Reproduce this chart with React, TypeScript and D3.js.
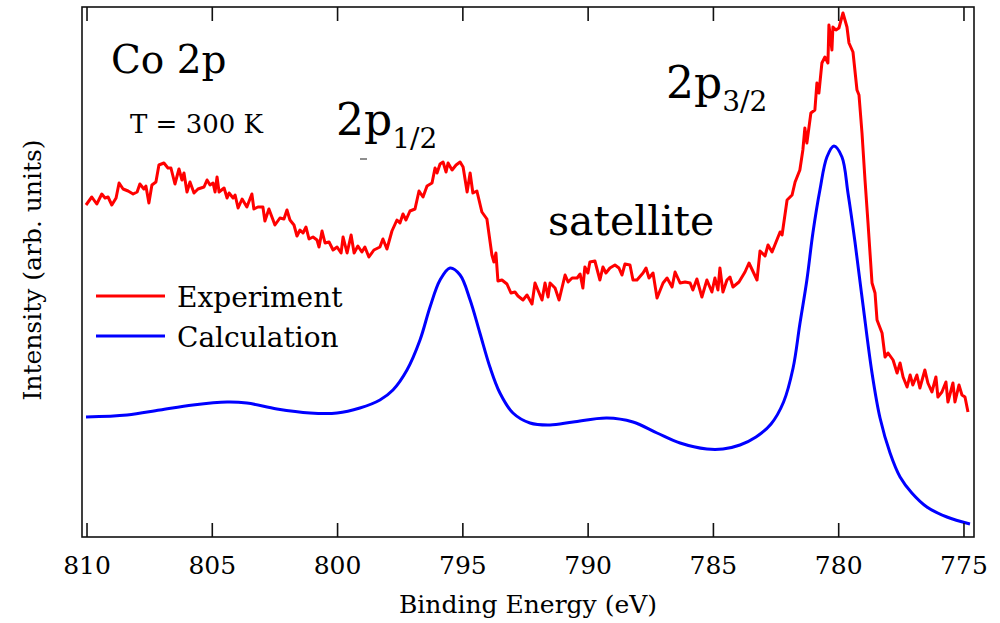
import React from "react";
import * as d3 from "d3";

// Experimental Co 2p XPS spectrum (binding energy in eV, intensity in arb. units)
const expEnergy = [810.04,809.81,809.61,809.41,809.28,809.16,809.01,808.84,808.72,808.56,808.36,808.16,808.0,807.89,807.73,807.65,807.53,807.41,807.25,807.13,806.93,806.77,806.65,806.49,806.33,806.21,806.13,806.01,805.89,805.73,805.57,805.33,805.21,805.09,804.97,804.89,804.81,804.73,804.53,804.41,804.33,804.17,804.09,803.97,803.81,803.62,803.42,803.34,803.18,802.98,802.9,802.74,802.5,802.3,802.14,802.02,801.9,801.74,801.62,801.5,801.38,801.26,801.14,800.98,800.82,800.74,800.62,800.5,800.34,800.18,800.02,799.86,799.78,799.62,799.46,799.34,799.19,799.03,798.91,798.75,798.55,798.31,798.19,798.03,797.83,797.63,797.51,797.39,797.27,797.11,796.91,796.75,796.59,796.43,796.23,796.11,796.03,795.91,795.79,795.67,795.59,795.43,795.27,795.11,794.99,794.83,794.71,794.6,794.44,794.24,794.04,793.84,793.76,793.68,793.6,793.44,793.24,793.08,792.92,792.8,792.6,792.44,792.24,792.12,791.84,791.72,791.6,791.52,791.32,791.16,790.92,790.8,790.64,790.44,790.32,790.21,790.13,790.01,789.93,789.73,789.53,789.41,789.29,789.13,788.93,788.77,788.65,788.53,788.33,788.21,788.05,787.81,787.69,787.57,787.41,787.25,787.01,786.85,786.65,786.53,786.33,786.13,785.93,785.82,785.66,785.46,785.26,785.06,784.94,784.82,784.74,784.62,784.46,784.34,784.22,783.98,783.74,783.58,783.26,783.14,782.94,782.82,782.66,782.5,782.34,782.26,782.06,781.86,781.74,781.55,781.43,781.35,781.27,781.11,780.95,780.87,780.79,780.67,780.55,780.43,780.39,780.27,780.23,780.11,779.99,779.83,779.67,779.59,779.43,779.27,779.19,779.07,778.95,778.83,778.67,778.55,778.47,778.27,778.15,778.03,777.83,777.67,777.55,777.43,777.27,777.15,777.04,776.88,776.76,776.56,776.44,776.28,776.12,776.04,775.88,775.72,775.64,775.44,775.36,775.2,775.08,774.96,774.84];
const expIntensity = [331,339,332,342,338,339,331,338,353,347,345,342,344,352,347,350,333,351,354,371,373,368,368,352,367,356,363,344,354,343,347,349,356,351,353,344,359,344,348,338,343,338,341,328,337,329,342,327,329,329,315,327,311,318,317,326,316,311,300,306,303,309,297,299,296,289,305,293,294,286,289,283,299,283,301,283,290,284,289,279,286,289,297,287,305,316,313,322,316,325,327,345,339,350,353,368,363,372,374,364,373,366,371,374,369,344,363,343,345,324,317,281,274,283,255,256,252,243,244,240,236,241,232,253,236,253,239,253,248,236,261,254,258,258,262,248,269,263,274,275,256,269,263,268,271,268,261,272,271,256,256,263,268,258,263,238,253,258,249,264,253,254,253,246,257,239,256,244,258,246,268,244,256,259,249,254,264,273,256,285,280,291,284,294,304,301,336,341,354,366,386,408,393,423,426,453,443,473,479,473,511,486,509,506,508,523,509,493,484,446,441,403,356,313,253,243,216,203,179,183,176,163,173,159,149,161,151,161,148,166,153,144,159,139,144,154,134,153,134,151,141,139,124];

// Calculated spectrum
const calcEnergy = [810.04,808.4,807.09,805.77,804.41,803.62,802.42,801.1,800.02,799.11,798.31,797.79,797.23,796.71,796.31,795.91,795.51,795.11,794.71,794.32,793.92,793.52,793.0,792.32,791.52,790.6,789.25,788.21,787.25,786.33,785.26,784.62,783.94,783.3,782.7,782.2,781.82,781.55,781.27,781.03,780.75,780.47,780.19,779.87,779.63,779.35,779.03,778.67,778.35,777.95,777.55,777.08,776.48,775.68,774.76];
const calcIntensity = [119,121,126,131,134,133,127,123,123,128,136,146,166,196,229,256,268,261,236,203,169,143,123,113,111,114,118,114,103,93,87,87,91,99,112,134,168,212,256,303,346,379,390,379,343,294,231,163,118,83,59,43,29,19,12];

const xTicks = [810, 805, 800, 795, 790, 785, 780, 775];
const xDomain = [810.2, 774.6];
const yDomain = [-1, 529];

const seriesNames = ["Experiment", "Calculation"];
const seriesColors = ["#ff0000", "#0000ff"];

const FONT = "DejaVu Serif";

export default function App() {
  const W = 1000, H = 623;
  const left = 82, right = 974, top = 7, bottom = 537;
  const x = d3.scaleLinear().domain(xDomain).range([left, right]);
  const y = d3.scaleLinear().domain(yDomain).range([bottom, top]);

  const expData = expEnergy.map((e, i) => [e, expIntensity[i]] as [number, number]);
  const calcData = calcEnergy.map((e, i) => [e, calcIntensity[i]] as [number, number]);

  const lineExp = d3.line<[number, number]>().x(d => x(d[0])).y(d => y(d[1]));
  const lineCalc = d3.line<[number, number]>().x(d => x(d[0])).y(d => y(d[1])).curve(d3.curveCatmullRom.alpha(0.5));

  const tickLen = 14;

  return (
    <svg width={W} height={H} style={{ position: "absolute", left: 0, top: 0, background: "#fff" }}>
      <defs>
        <clipPath id="plotclip">
          <rect x={left} y={top} width={right - left} height={bottom - top} />
        </clipPath>
      </defs>
      <rect x={0} y={0} width={W} height={H} fill="#fff" />

      <g clipPath="url(#plotclip)">
        <path d={lineExp(expData) || ""} fill="none" stroke={seriesColors[0]} strokeWidth={3} strokeLinejoin="round" />
        <path d={lineCalc(calcData) || ""} fill="none" stroke={seriesColors[1]} strokeWidth={3} strokeLinejoin="round" />
      </g>

      {/* frame */}
      <rect x={left} y={top} width={right - left} height={bottom - top} fill="none" stroke="#111" strokeWidth={1.6} />
      {xTicks.map(t => (
        <g key={t}>
          <line x1={x(t)} x2={x(t)} y1={bottom} y2={bottom - tickLen} stroke="#111" strokeWidth={1.6} />
          <line x1={x(t)} x2={x(t)} y1={top} y2={top + tickLen} stroke="#111" strokeWidth={1.6} />
          <text x={x(t)} y={574} textAnchor="middle" fontSize={25} fill="#000" fontFamily={FONT}>{t}</text>
        </g>
      ))}

      <text x={528} y={613} textAnchor="middle" fontSize={25} fill="#000" fontFamily={FONT}>Binding Energy (eV)</text>
      <text transform="translate(41,270) rotate(-90)" textAnchor="middle" fontSize={25} fill="#000" fontFamily={FONT}>Intensity (arb. units)</text>

      {/* annotations */}
      <text x={111} y={73} fontSize={39} fill="#000" fontFamily={FONT}>Co 2p</text>
      <text x={130} y={133} fontSize={26} fill="#000" fontFamily={FONT}>T = 300 K</text>
      <text x={336} y={135} fontSize={44} fill="#000" fontFamily={FONT}>2p<tspan fontSize={28} dy={13}>1/2</tspan></text>
      <line x1={360} x2={367} y1={159} y2={159} stroke="#444" strokeWidth={1.2} />
      <text x={666} y={98} fontSize={44} fill="#000" fontFamily={FONT}>2p<tspan fontSize={28} dy={13}>3/2</tspan></text>
      <text x={548} y={235} fontSize={41} fill="#000" fontFamily={FONT}>satellite</text>

      {/* legend */}
      {seriesNames.map((n, i) => (
        <g key={n}>
          <line x1={96} x2={165} y1={296 + i * 40} y2={296 + i * 40} stroke={seriesColors[i]} strokeWidth={3} />
          <text x={177} y={307 + i * 40} fontSize={28} fill="#000" fontFamily={FONT}>{n}</text>
        </g>
      ))}
    </svg>
  );
}
